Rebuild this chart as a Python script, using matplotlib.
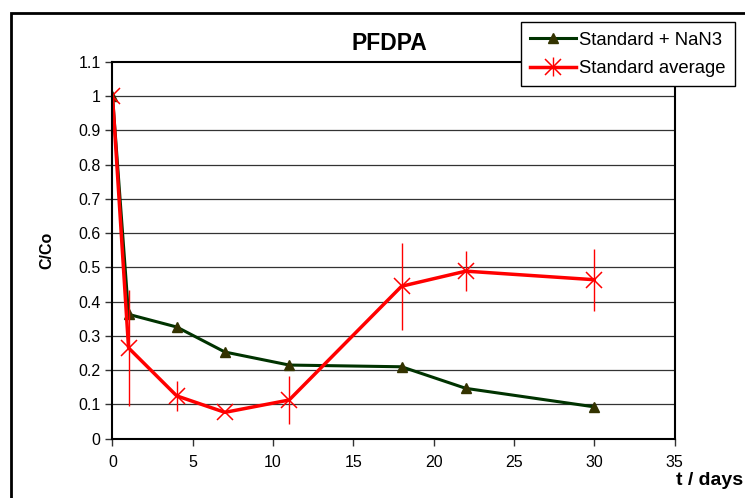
import matplotlib
matplotlib.use("Agg")
import matplotlib.pyplot as plt
from matplotlib.patches import Rectangle

plt.rcParams["font.family"] = ["Liberation Sans", "DejaVu Sans"]

# data
days = [0, 1, 4, 7, 11, 18, 22, 30]
nan3 = [1.0, 0.363, 0.326, 0.253, 0.215, 0.210, 0.147, 0.093]
std_avg = [1.0, 0.265, 0.125, 0.077, 0.113, 0.445, 0.489, 0.464]
std_err = [0.0, 0.17, 0.043, 0.0, 0.069, 0.127, 0.058, 0.091]

y_ticks = [0, 0.1, 0.2, 0.3, 0.4, 0.5, 0.6, 0.7, 0.8, 0.9, 1, 1.1]
y_labels = ["0", "0.1", "0.2", "0.3", "0.4", "0.5", "0.6", "0.7", "0.8", "0.9", "1", "1.1"]
x_ticks = [0, 5, 10, 15, 20, 25, 30, 35]

fig = plt.figure(figsize=(7.45, 4.98), dpi=100)
ax = fig.add_axes([0.151, 0.119, 0.7545, 0.757])

for y in y_ticks[1:-1]:
    ax.axhline(y, color="#333333", lw=0.9, zorder=1)

ax.plot(days, nan3, color="#003300", lw=2.2, marker="^", markersize=7,
        markerfacecolor="#333300", markeredgecolor="#333300",
        label="Standard + NaN3", zorder=3)
ax.errorbar(days, std_avg, yerr=std_err, color="#ff0000", lw=2.5,
            elinewidth=1.0, capsize=0, marker="x", markersize=11,
            markeredgewidth=1.1, label="Standard average", zorder=4)

ax.set_xlim(0, 35)
ax.set_ylim(0, 1.1)
ax.set_xticks(x_ticks)
ax.set_yticks(y_ticks)
ax.set_yticklabels(y_labels)
ax.tick_params(axis="both", labelsize=11.5, direction="out", length=5,
               width=1, color="#333333")
ax.tick_params(axis="x", pad=7)
for s in ax.spines.values():
    s.set_linewidth(1.5)
    s.set_zorder(5)

ax.set_ylabel("C/Co", fontsize=11.5, fontweight="bold", labelpad=17)
fig.text(0.907, 0.036, "t / days", fontsize=14, fontweight="bold",
         ha="left", va="center")
fig.text(0.522, 0.913, "PFDPA", fontsize=16.5, fontweight="bold",
         ha="center", va="center")

# outer chart frame, only top and left edge visible
fig.patches.append(Rectangle((0.0153, -0.1), 1.2, 1.1 - 13.3 / 498,
                             transform=fig.transFigure, fill=False,
                             edgecolor="black", lw=2.0, zorder=0))

leg = fig.legend(loc="upper right", bbox_to_anchor=(735 / 745, 1 - 22.3 / 498),
                 fontsize=13.3, frameon=True, fancybox=False, framealpha=1,
                 edgecolor="black", handlelength=2.45, handletextpad=0.2,
                 borderpad=0.5, labelspacing=0.62, borderaxespad=0)
leg.get_frame().set_linewidth(1.0)
leg.set_zorder(10)

fig.savefig("out.png", dpi=100)
